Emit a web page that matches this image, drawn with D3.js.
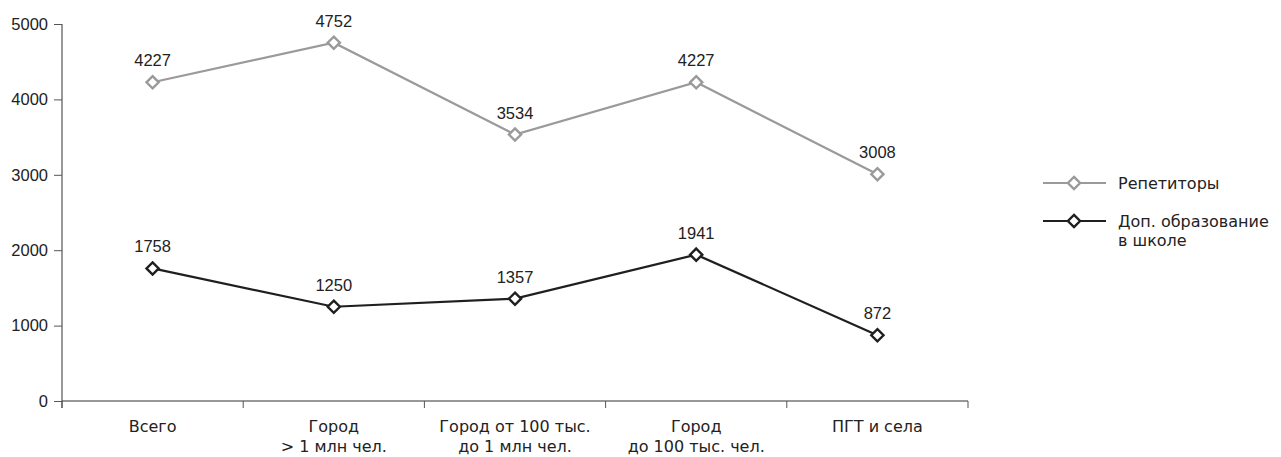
<!DOCTYPE html>
<html>
<head>
<meta charset="utf-8">
<script src="https://cdn.jsdelivr.net/npm/d3@7"></script>
<style>
  body { margin: 0; background: #fff; }
  svg { display: block; }
  .num { font-family: "Liberation Sans Narrow", "Arial Narrow", "Liberation Sans", sans-serif; font-size: 16.5px; fill: #222; }
  .cat { font-family: "DejaVu Sans", "Noto Sans", sans-serif; font-size: 16px; fill: #222; }
</style>
</head>
<body>
<div id="chart"></div>
<script>
var categories = [["Всего"], ["Город", "> 1 млн чел."], ["Город от 100 тыс.", "до 1 млн чел."], ["Город", "до 100 тыс. чел."], ["ПГТ и села"]];
var tutors = [4227, 4752, 3534, 4227, 3008];
var school = [1758, 1250, 1357, 1941, 872];
var yTicks = [0, 1000, 2000, 3000, 4000, 5000];
var seriesNames = [["Репетиторы"], ["Доп. образование", "в школе"]];
var seriesColors = ["#9a9a9a", "#1f1f1f"];

var W = 1281, H = 457;
var svg = d3.select("#chart").append("svg").attr("width", W).attr("height", H);

var x = d3.scaleBand().domain(d3.range(categories.length)).range([62, 968]);
var y = d3.scaleLinear().domain([0, 5000]).range([401, 24]);

// y axis
var yAxis = svg.append("g").attr("transform", "translate(62,0)")
  .call(d3.axisLeft(y).tickValues(yTicks).tickFormat(d3.format("d")).tickSize(8).tickPadding(6));
yAxis.select(".domain").attr("stroke", "#333").attr("d", "M0,24V408");
yAxis.selectAll(".tick line").attr("stroke", "#555");
yAxis.selectAll(".tick text").attr("class", "num").attr("font-family", null).attr("font-size", null).attr("fill", null);

// x axis: ticks at category boundaries
var bounds = d3.range(categories.length + 1).map(function(i){ return 62 + i * x.bandwidth(); });
var xg = svg.append("g");
xg.append("line").attr("x1", 62).attr("x2", 968).attr("y1", 401).attr("y2", 401).attr("stroke", "#333").attr("stroke-width", 1.2);
xg.selectAll("line.tk").data(bounds).enter().append("line").attr("class", "tk")
  .attr("x1", function(d){return d}).attr("x2", function(d){return d})
  .attr("y1", 401).attr("y2", 408).attr("stroke", "#555");
var catText = xg.selectAll("text").data(categories).enter().append("text")
  .attr("class", "cat").attr("text-anchor", "middle")
  .attr("x", function(d, i){ return x(i) + x.bandwidth() / 2; })
  .attr("y", 432);
catText.selectAll("tspan").data(function(d){return d}).enter().append("tspan")
  .attr("x", function(){ return d3.select(this.parentNode).attr("x"); })
  .attr("dy", function(d, i){ return i === 0 ? 0 : 20; })
  .text(function(d){return d});

function cx(i){ return x(i) + x.bandwidth() / 2; }
var diamond = d3.symbol().type(d3.symbolDiamond2).size(95);

[tutors, school].forEach(function(vals, s){
  var g = svg.append("g");
  g.append("path").datum(vals)
    .attr("fill", "none").attr("stroke", seriesColors[s]).attr("stroke-width", 2.2)
    .attr("d", d3.line().x(function(d, i){return cx(i)}).y(function(d){return y(d)}));
  g.selectAll("path.m").data(vals).enter().append("path").attr("class", "m")
    .attr("d", diamond)
    .attr("transform", function(d, i){ return "translate(" + cx(i) + "," + y(d) + ")"; })
    .attr("fill", "#fff").attr("stroke", seriesColors[s]).attr("stroke-width", 2.4);
  g.selectAll("text").data(vals).enter().append("text").attr("class", "num")
    .attr("text-anchor", "middle")
    .attr("x", function(d, i){return cx(i)})
    .attr("y", function(d){return y(d) - 16})
    .text(function(d){return d});
});

// legend
var leg = svg.append("g");
seriesNames.forEach(function(name, s){
  var ly = 183 + s * 38;
  leg.append("line").attr("x1", 1043).attr("x2", 1106).attr("y1", ly).attr("y2", ly)
    .attr("stroke", seriesColors[s]).attr("stroke-width", 2.2);
  leg.append("path").attr("d", diamond).attr("transform", "translate(1074," + ly + ")")
    .attr("fill", "#fff").attr("stroke", seriesColors[s]).attr("stroke-width", 2.4);
  var t = leg.append("text").attr("class", "cat").attr("x", 1118).attr("y", ly + 6);
  t.selectAll("tspan").data(name).enter().append("tspan")
    .attr("x", 1118).attr("dy", function(d, i){ return i === 0 ? 0 : 19; })
    .text(function(d){return d});
});
</script>
</body>
</html>
